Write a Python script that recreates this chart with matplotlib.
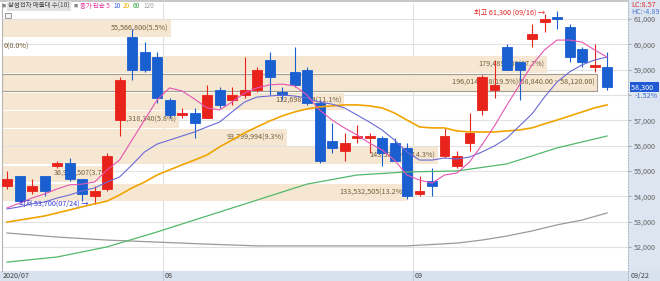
import matplotlib
matplotlib.use("Agg")
import matplotlib.pyplot as plt
from matplotlib.patches import Rectangle
from matplotlib.lines import Line2D
from matplotlib.transforms import blended_transform_factory

plt.rcParams["font.family"] = ["Liberation Sans Narrow", "Noto Sans CJK KR", "DejaVu Sans"]

# trading days 2020-07-15 .. 2020-09-22
dates = [
    "07/15", "07/16", "07/17", "07/20", "07/21", "07/22", "07/23", "07/24", "07/27", "07/28",
    "07/29", "07/30", "07/31",
    "08/03", "08/04", "08/05", "08/06", "08/07", "08/10", "08/11", "08/12", "08/13", "08/14",
    "08/18", "08/19", "08/20", "08/21", "08/24", "08/25", "08/26", "08/27", "08/28", "08/31",
    "09/01", "09/02", "09/03", "09/04", "09/07", "09/08", "09/09", "09/10", "09/11", "09/14",
    "09/15", "09/16", "09/17", "09/18", "09/21", "09/22",
]
opens = [54400, 54800, 54200, 54800, 55200, 55300, 54700, 54000, 54300, 57000,
         60300, 59700, 59500, 57800, 57200, 57300, 57100, 58200, 57800, 58000,
         58200, 59400, 58100, 58900, 59000, 57700, 56200, 55800, 56300, 56300,
         56300, 56100, 55900, 54100, 54600, 55600, 55200, 56100, 57400, 58200,
         59900, 59300, 60200, 60900, 61100, 60700, 59800, 59100, 59100]
highs = [55000, 54800, 54700, 54800, 55400, 55500, 54700, 54400, 55700, 58700,
         60600, 60100, 59700, 57900, 57500, 57500, 58400, 58300, 58300, 59500,
         59100, 59700, 58300, 59900, 59100, 57800, 56900, 56500, 56800, 56500,
         56400, 56300, 56100, 54800, 55100, 56700, 55800, 57300, 58800, 59400,
         60000, 59300, 60800, 61200, 61300, 60800, 59900, 60000, 59700]
lows = [54300, 53800, 54100, 54000, 55100, 54600, 53800, 53700, 54200, 56400,
        58600, 58900, 57700, 57100, 57100, 56300, 57100, 57500, 57600, 57900,
        58100, 58000, 57800, 58300, 57600, 55300, 55700, 55400, 56100, 55700,
        55200, 55400, 53900, 54000, 54000, 55500, 55100, 55800, 57200, 57900,
        59000, 57800, 59900, 60500, 60600, 59300, 59100, 58900, 58200]
closes = [54700, 53800, 54400, 54200, 55300, 54700, 54100, 54200, 55600, 58600,
          59000, 59000, 57900, 57200, 57300, 56900, 58000, 57600, 58000, 58200,
          59000, 58700, 58000, 58400, 57700, 55400, 55900, 56100, 56400, 56400,
          55700, 55400, 54000, 54200, 54400, 56400, 55600, 56500, 58700, 58400,
          59000, 59000, 60400, 61000, 61000, 59500, 59300, 59200, 58300]

ma5 = [53540, 53730, 53930, 54090, 54290, 54450, 54480, 54560, 55040, 55430,
       56220, 57010, 57800, 58280, 58160, 57840, 57490, 57410, 57720, 58080,
       58280, 58400, 58430, 58360, 58000, 57410, 57010, 56700, 56420, 56100,
       55830, 55430, 54840, 54640, 54520, 54840, 54920, 55350, 56030, 56780,
       57610, 58400, 59190, 59780, 60170, 60170, 60090, 59780, 59500]
ma10 = [53500, 53580, 53700, 53770, 53930, 54050, 54210, 54330, 54560, 54760,
        55240, 55750, 56060, 56220, 56380, 56540, 56740, 56930, 57330, 57720,
        57920, 57960, 58000, 57960, 57880, 57720, 57640, 57490, 57210, 56930,
        56620, 56220, 55750, 55430, 55430, 55510, 55470, 55550, 55750, 55990,
        56300, 56780, 57250, 57920, 58510, 58910, 59190, 59380, 59500]
ma20 = [52980, 53060, 53140, 53220, 53340, 53460, 53580, 53700, 53810, 54050,
        54330, 54560, 54840, 55040, 55240, 55430, 55630, 55950, 56220, 56500,
        56740, 56970, 57170, 57330, 57450, 57530, 57570, 57610, 57610, 57570,
        57490, 57290, 57010, 56740, 56700, 56700, 56580, 56540, 56540, 56540,
        56580, 56620, 56700, 56860, 57010, 57170, 57330, 57490, 57610]
ma60_idx = [0, 4, 8, 12, 16, 20, 24, 28, 32, 36, 40, 44, 48]
ma60 = [51400, 51600, 52000, 52590, 53220, 53850, 54480, 54840, 54960, 55000, 55280, 55910, 56380]
ma120_idx = [0, 4, 8, 12, 16, 20, 24, 28, 32, 36, 38, 40, 42, 44, 46, 48]
ma120 = [52550, 52390, 52270, 52190, 52110, 52040, 52040, 52040, 52040, 52150, 52270,
         52430, 52630, 52870, 53060, 53340]

# volume profile by close price (10 bins, bottom -> top)
band_low = [53800, 54520, 55240, 55960, 56680, 57400, 58120, 58840, 59560, 60280]
band_step = 720
band_vol = [133532505, 36936507, 143536563, 93799994, 58318340,
            112698494, 196014218, 179489686, 0, 55566800]
band_pct = [13.2, 3.7, 14.3, 9.3, 5.8, 11.1, 19.5, 17.7, 0.0, 5.5]

yticks = [52000, 53000, 54000, 55000, 56000, 57000, 58000, 59000, 60000, 61000]

UP = "#e8231c"
DOWN = "#1a5fd0"
BEIGE = "#f6e7d3"
W, H = 660, 281
FS = 5.2


def fx(px):
    return px / W


def fy(py):
    return 1 - py / H


fig = plt.figure(figsize=(6.6, 2.81), dpi=100)
fig.patch.set_facecolor("white")
ax = fig.add_axes([fx(2), 10 / H, 626 / W, 268 / H])
ax.set_xlim(-0.4, 49.68)
ax.set_ylim(51048, 61634)

# grid
ax.set_axisbelow(True)
ax.set_yticks(yticks)
ax.grid(axis="y", color="#e2e2e2", lw=0.8, zorder=0)
for s in ["top", "right", "bottom"]:
    ax.spines[s].set_visible(False)
ax.spines["left"].set_color("#b4b4b4")
ax.set_xticks([])

# month boundaries
month_pos = [i - 0.5 for i in range(1, len(dates)) if dates[i][:2] != dates[i - 1][:2]]
for m in month_pos:
    ax.axvline(m, color="#e0e0e0", lw=0.8, zorder=0)

# volume profile bands
tb = blended_transform_factory(ax.transAxes, ax.transData)
vmax = max(band_vol)
scale = 595 / 626
for lo, v, p in zip(band_low, band_vol, band_pct):
    w = v / vmax * scale
    big = v == vmax
    ax.add_patch(Rectangle((0, lo + 25), w, band_step - 50, transform=tb,
                           facecolor=BEIGE, edgecolor="#a39c90" if big else "none",
                           lw=0.8, zorder=1))
    lab = f"{v:,}({p:.1f}%)"
    if big:
        lab += f"({lo + band_step:,.2f} ~ {lo:,.2f})"
    if v == 0:
        ax.text(0.002, lo + band_step / 2, lab, transform=tb, ha="left", va="center",
                fontsize=FS, color="#735e3a", zorder=2)
    else:
        ax.text(w - 0.004, lo + band_step / 2, lab, transform=tb, ha="right", va="center",
                fontsize=FS, color="#735e3a", zorder=2)

# candles
xs = list(range(len(dates)))
for i in xs:
    o, h, l, c = opens[i], highs[i], lows[i], closes[i]
    col = UP if c > o else DOWN
    ax.vlines(i, l, h, color=col, lw=0.8, zorder=3)
    ax.bar(i, abs(c - o), bottom=min(o, c), width=0.8, color=col,
           edgecolor=col, lw=0.6, zorder=4)

# moving averages
ax.plot(ma120_idx, ma120, color="#9a9a9a", lw=0.9, zorder=5)
ax.plot(ma60_idx, ma60, color="#52b86a", lw=0.9, zorder=5)
ax.plot(xs, ma20, color="#f0a400", lw=1.2, zorder=5)
ax.plot(xs, ma10, color="#6a6ad8", lw=0.8, zorder=5)
ax.plot(xs, ma5, color="#e455b4", lw=0.8, zorder=5)

# high / low notes
lo_i = lows.index(min(lows))
hi_i = highs.index(max(highs))
ax.text(lo_i - 0.45, min(lows), f"최저 {min(lows):,}({dates[lo_i]}) →", ha="right",
        va="center", fontsize=FS, color="#3838d0", zorder=6)
ax.text(hi_i - 0.9, max(highs) - 60, f"최고 {max(highs):,} ({dates[hi_i]}) →", ha="right",
        va="center", fontsize=FS, color="#e02020", zorder=6)

# right price axis (58,000 sits under the last-price marker)
ax.yaxis.tick_right()
ax.set_yticklabels(["" if t == 58000 else f"{t:,}" for t in yticks])
ax.tick_params(axis="y", length=2, width=0.6, color="#999999", labelsize=FS,
               labelcolor="#666666", pad=2)

# panels
fig.patches.append(Rectangle((fx(628), 0), 1 - fx(628), 1, transform=fig.transFigure,
                             facecolor="#dde5f0", edgecolor="none", zorder=-2))
fig.patches.append(Rectangle((0, 0), 1, 10 / H, transform=fig.transFigure,
                             facecolor="#d8e1ee", edgecolor="none", zorder=-1))
fig.patches.append(Rectangle((0, fy(2)), fx(628), 2 / H, transform=fig.transFigure,
                             facecolor="#c8c8c8", edgecolor="none", zorder=-1))
fig.add_artist(Line2D([fx(628), fx(628)], [0, 1], color="#a8b4c4", lw=0.7, ls=(0, (2, 1))))
for m in month_pos:
    xm = ax.transData.transform((m, 0))[0] / fig.dpi / 6.6
    fig.add_artist(Line2D([xm, xm], [0, 10 / H], color="#c0cad8", lw=0.7))

# date labels
date_labels = ["2020/07"] + [dates[int(m + 0.5)][:2] for m in month_pos]
date_x = [3] + [ax.transData.transform((m, 0))[0] + 1 for m in month_pos]
for lab, px in zip(date_labels, date_x):
    fig.text(fx(px), fy(276), lab, fontsize=FS, color="#444444", va="center")
fig.text(fx(631), fy(276), dates[-1], fontsize=FS, color="#444444", va="center")

# header
fig.text(fx(2), fy(6), "■", fontsize=3, color="#888888", va="center")
fig.text(fx(8), fy(6), "삼성전자 매물대 수(10)", fontsize=4.6, color="#444444", va="center",
         bbox=dict(facecolor="#e2e2e2", edgecolor="none", pad=0.8))
fig.text(fx(74), fy(6), "■", fontsize=3, color="#888888", va="center")
legend = [("종가 단순 5", "#e0309a", 80), ("10", "#3a5ae0", 113), ("20", "#f0b000", 123),
          ("60", "#30a040", 133), ("120", "#a0a0a0", 143)]
for lab, col, px in legend:
    fig.text(fx(px), fy(6), lab, fontsize=4.6, color=col, va="center")
fig.patches.append(Rectangle((fx(5), fy(18)), 6 / W, 5 / H, transform=fig.transFigure,
                             facecolor="#f4f4f4", edgecolor="#8a8a8a", lw=0.6))

# right side info
fig.text(fx(631), fy(5), "LC:8.57", fontsize=FS, color="#e03030", va="center")
fig.text(fx(631), fy(12), "HC:-4.89", fontsize=FS, color="#4a7ad0", va="center")
chg = (closes[-1] / closes[-2] - 1) * 100
ax.text(1.005, closes[-1], f"{closes[-1]:,}   ", transform=tb, fontsize=FS, color="white",
        va="center", ha="left", bbox=dict(facecolor="#1f5ad4", edgecolor="none", pad=0.8))
ax.text(1.01, closes[-1] - 330, f"{chg:.2f}%", transform=tb, fontsize=FS, color="#3a6ad0",
        va="center", ha="left")

fig.savefig("out.png", dpi=100)
